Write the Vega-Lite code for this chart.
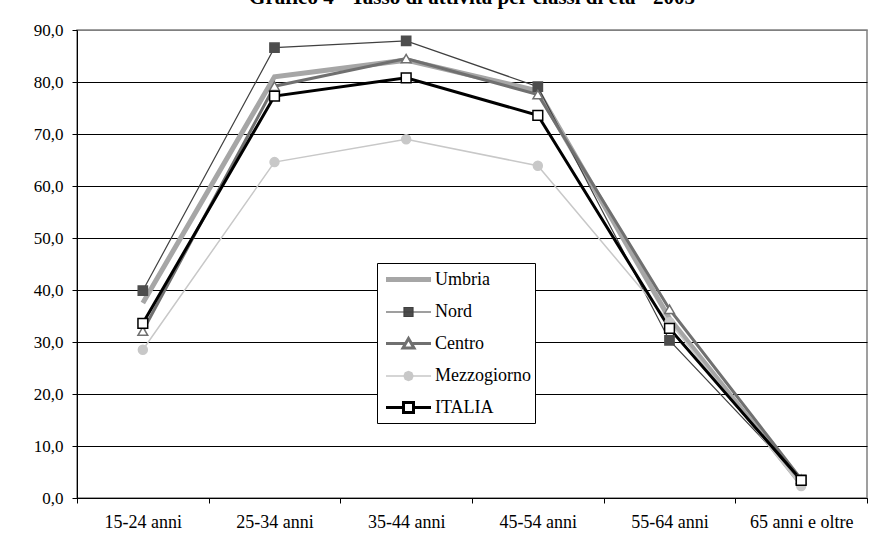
{
  "$schema": "https://vega.github.io/schema/vega-lite/v6.json",
  "width": 790,
  "height": 468,
  "autosize": {"type": "none"},
  "padding": {"left": 77, "top": 30, "right": 18, "bottom": 54},
  "background": "white",
  "title": {
    "text": "Grafico 4 - Tasso di attività per classi di età - 2005",
    "font": "Liberation Serif",
    "fontSize": 21,
    "fontWeight": "bold",
    "color": "black",
    "anchor": "middle",
    "baseline": "alphabetic",
    "offset": -4
  },
  "data": {
    "values": [
      {"classe": "15-24 anni", "area": "Umbria", "tasso": 37.5},
      {"classe": "25-34 anni", "area": "Umbria", "tasso": 81.0},
      {"classe": "35-44 anni", "area": "Umbria", "tasso": 84.2},
      {"classe": "45-54 anni", "area": "Umbria", "tasso": 78.3},
      {"classe": "55-64 anni", "area": "Umbria", "tasso": 34.5},
      {"classe": "65 anni  e oltre", "area": "Umbria", "tasso": 2.7},
      {"classe": "15-24 anni", "area": "Nord", "tasso": 39.9},
      {"classe": "25-34 anni", "area": "Nord", "tasso": 86.6},
      {"classe": "35-44 anni", "area": "Nord", "tasso": 87.9},
      {"classe": "45-54 anni", "area": "Nord", "tasso": 79.1},
      {"classe": "55-64 anni", "area": "Nord", "tasso": 30.3},
      {"classe": "65 anni  e oltre", "area": "Nord", "tasso": 3.5},
      {"classe": "15-24 anni", "area": "Centro", "tasso": 32.1},
      {"classe": "25-34 anni", "area": "Centro", "tasso": 79.2},
      {"classe": "35-44 anni", "area": "Centro", "tasso": 84.5},
      {"classe": "45-54 anni", "area": "Centro", "tasso": 77.6},
      {"classe": "55-64 anni", "area": "Centro", "tasso": 36.3},
      {"classe": "65 anni  e oltre", "area": "Centro", "tasso": 3.6},
      {"classe": "15-24 anni", "area": "Mezzogiorno", "tasso": 28.5},
      {"classe": "25-34 anni", "area": "Mezzogiorno", "tasso": 64.6},
      {"classe": "35-44 anni", "area": "Mezzogiorno", "tasso": 69.0},
      {"classe": "45-54 anni", "area": "Mezzogiorno", "tasso": 63.9},
      {"classe": "55-64 anni", "area": "Mezzogiorno", "tasso": 33.8},
      {"classe": "65 anni  e oltre", "area": "Mezzogiorno", "tasso": 2.3},
      {"classe": "15-24 anni", "area": "ITALIA", "tasso": 33.6},
      {"classe": "25-34 anni", "area": "ITALIA", "tasso": 77.3},
      {"classe": "35-44 anni", "area": "ITALIA", "tasso": 80.8},
      {"classe": "45-54 anni", "area": "ITALIA", "tasso": 73.6},
      {"classe": "55-64 anni", "area": "ITALIA", "tasso": 32.6},
      {"classe": "65 anni  e oltre", "area": "ITALIA", "tasso": 3.4}
    ]
  },
  "encoding": {
    "x": {
      "field": "classe",
      "type": "nominal",
      "sort": ["15-24 anni", "25-34 anni", "35-44 anni", "45-54 anni", "55-64 anni", "65 anni  e oltre"],
      "bandPosition": 0.5,
      "scale": {"type": "band", "paddingInner": 0, "paddingOuter": 0},
      "axis": {
        "title": null,
        "labelAngle": 0,
        "labelFont": "Liberation Serif",
        "labelFontSize": 18,
        "labelColor": "black",
        "labelPadding": 10,
        "domainColor": "black",
        "tickColor": "black",
        "tickSize": 5,
        "tickBand": "extent",
        "grid": false
      }
    },
    "y": {
      "field": "tasso",
      "type": "quantitative",
      "scale": {"domain": [0, 90], "nice": false, "zero": true},
      "axis": {
        "title": null,
        "values": [0, 10, 20, 30, 40, 50, 60, 70, 80, 90],
        "format": ".1f",
        "labelFont": "Liberation Serif",
        "labelFontSize": 17,
        "labelColor": "black",
        "labelPadding": 9,
        "domainColor": "black",
        "tickColor": "black",
        "tickSize": 5,
        "grid": true,
        "gridColor": {"condition": {"test": "datum.value === 90", "value": "#808080"}, "value": "black"},
        "gridWidth": 1,
        "gridOpacity": 1
      }
    }
  },
  "layer": [
    {
      "mark": {"type": "line", "strokeJoin": "miter"},
      "encoding": {
        "color": {
          "field": "area",
          "type": "nominal",
          "scale": {
            "domain": ["Umbria", "Nord", "Centro", "Mezzogiorno", "ITALIA"],
            "range": ["#a6a6a6", "#404040", "#707070", "#c8c8c8", "#000000"]
          },
          "legend": {
            "title": null,
            "orient": "none",
            "legendX": 300,
            "legendY": 233,
            "padding": 4,
            "strokeColor": "black",
            "fillColor": "white",
            "cornerRadius": 0,
            "symbolSize": 400,
            "symbolOffset": 15,
            "symbolType": "M-2.25,0H2.25",
            "labelOffset": 14,
            "rowPadding": 11,
            "labelFont": "Liberation Serif",
            "labelFontSize": 18,
            "labelColor": "black",
            "encode": {
              "labels": {
                "update": {
                  "font": {"value": "Liberation Serif"}
                }
              },
              "symbols": {
                "update": {
                  "shape": {"signal": "datum.value === 'Nord' ? 'M-2.25,0H2.25M-0.45,-0.45H0.45V0.45H-0.45Z' : datum.value === 'Centro' ? 'M-2.25,0H-0.35M0.35,0H2.25M0,-0.5L0.55,0.45L-0.55,0.45Z' : datum.value === 'Mezzogiorno' ? 'M-2.25,0H2.25M-0.45,0L-0.32,-0.32L0,-0.45L0.32,-0.32L0.45,0L0.32,0.32L0,0.45L-0.32,0.32Z' : datum.value === 'ITALIA' ? 'M-2.25,0H-0.5M0.5,0H2.25M-0.5,-0.5H0.5V0.5H-0.5Z' : 'M-2.25,0H2.25'"},
                  "fill": {"signal": "datum.value === 'Nord' ? '#4d4d4d' : datum.value === 'Mezzogiorno' ? '#c8c8c8' : datum.value === 'Umbria' ? 'transparent' : 'white'"},
                  "strokeWidth": {"signal": "datum.value === 'Umbria' ? 5 : datum.value === 'Nord' ? 1.2 : datum.value === 'Mezzogiorno' ? 1.5 : 2.5"},
                  "opacity": {"value": 1}
                }
              }
            }
          }
        },
        "strokeWidth": {
          "field": "area",
          "type": "nominal",
          "scale": {
            "type": "ordinal",
            "domain": ["Umbria", "Nord", "Centro", "Mezzogiorno", "ITALIA"],
            "range": [5, 1.2, 3, 1.5, 3]
          },
          "legend": null
        }
      }
    },
    {
      "transform": [{"filter": "datum.area !== 'Umbria'"}],
      "mark": {"type": "point", "strokeWidth": 1.5, "opacity": 1},
      "encoding": {
        "shape": {
          "field": "area",
          "type": "nominal",
          "scale": {
            "domain": ["Nord", "Centro", "Mezzogiorno", "ITALIA"],
            "range": ["square", "triangle-up", "circle", "square"]
          },
          "legend": null
        },
        "fill": {
          "field": "area",
          "type": "nominal",
          "scale": {
            "domain": ["Nord", "Centro", "Mezzogiorno", "ITALIA"],
            "range": ["#4d4d4d", "#ffffff", "#c8c8c8", "#ffffff"]
          },
          "legend": null
        },
        "stroke": {
          "field": "area",
          "type": "nominal",
          "scale": {
            "domain": ["Nord", "Centro", "Mezzogiorno", "ITALIA"],
            "range": ["#4d4d4d", "#707070", "#c8c8c8", "#000000"]
          },
          "legend": null
        },
        "size": {
          "field": "area",
          "type": "nominal",
          "scale": {
            "type": "ordinal",
            "domain": ["Nord", "Centro", "Mezzogiorno", "ITALIA"],
            "range": [85, 95, 80, 95]
          },
          "legend": null
        }
      }
    }
  ],
  "config": {
    "locale": {
      "number": {"decimal": ",", "thousands": ".", "grouping": [3], "currency": ["", " €"]}
    },
    "view": {"stroke": "#808080", "strokeWidth": 1.5},
    "font": "Liberation Serif",
    "legend": {"labelFont": "Liberation Serif"}
  }
}
